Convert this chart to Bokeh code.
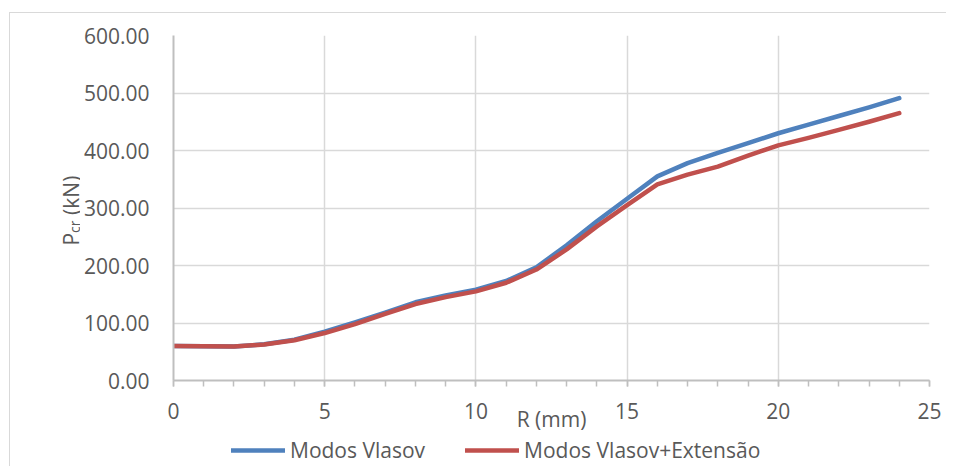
import math
from bokeh.plotting import figure
from bokeh.layouts import row, column
from bokeh.models import (Range1d, SingleIntervalTicker, NumeralTickFormatter,
                          Legend, LegendItem, Label)
from bokeh.embed import file_html
from bokeh.resources import INLINE

# ---- data ----
r_mm = [0, 1, 2, 3, 4, 5, 6, 7, 8, 9, 10, 11, 12, 13, 14, 15, 16, 17, 18, 19, 20, 21, 22, 23, 24]
modos_vlasov = [60, 59.5, 59, 63, 71, 85, 101, 118, 136, 148, 158, 173, 197, 235, 277, 316,
                355, 378, 396, 413, 430, 445, 460, 475, 491]
modos_vlasov_ext = [60, 59.5, 59, 62.5, 70, 82.5, 98, 116, 133, 145, 155, 170, 193, 228, 268, 305,
                    341, 358, 372, 391, 409, 422, 436, 450, 465]
series_names = ["Modos Vlasov", "Modos Vlasov+Extensão"]
series_colors = ["#4f81bd", "#c0504d"]
x_title = "R (mm)"
y_title_main = "P"
y_title_sub = "cr"
y_title_rest = "(kN)"

FONT = "Open Sans"
TXT = "#595959"
MAIN_W = 866

# ---------------- main chart ----------------
p = figure(width=MAIN_W, height=425, output_backend="svg", toolbar_location=None,
           x_range=Range1d(0, 25), y_range=Range1d(0, 600),
           min_border_left=93, min_border_right=17, min_border_top=22, min_border_bottom=58)
p.outline_line_color = None
p.background_fill_color = "white"
p.border_fill_color = "white"

xa = p.xaxis[0]
xa.ticker = SingleIntervalTicker(interval=5, num_minor_ticks=5)
xa.axis_line_color = "#bfbfbf"
xa.axis_line_width = 2
xa.major_tick_line_color = "#bfbfbf"
xa.minor_tick_line_color = "#bfbfbf"
xa.major_tick_line_width = 1.5
xa.minor_tick_line_width = 1.5
xa.major_tick_in = 0
xa.major_tick_out = 6
xa.minor_tick_in = 0
xa.minor_tick_out = 6
xa.major_label_standoff = 16
xa.major_label_text_font = FONT
xa.major_label_text_font_size = "21px"
xa.major_label_text_color = TXT
xa.axis_label = x_title
xa.axis_label_standoff = -17
xa.axis_label_text_font = FONT
xa.axis_label_text_font_size = "21px"
xa.axis_label_text_font_style = "normal"
xa.axis_label_text_color = TXT

ya = p.yaxis[0]
ya.ticker = SingleIntervalTicker(interval=100, num_minor_ticks=0)
ya.formatter = NumeralTickFormatter(format="0.00")
ya.axis_line_color = "#bfbfbf"
ya.axis_line_width = 2
ya.major_tick_in = 0
ya.major_tick_out = 0
ya.minor_tick_line_color = None
ya.major_label_standoff = 24
ya.major_label_text_font = FONT
ya.major_label_text_font_size = "21px"
ya.major_label_text_color = TXT

p.xgrid.grid_line_color = "#d9d9d9"
p.ygrid.grid_line_color = "#d9d9d9"
p.xgrid.grid_line_width = 1.5
p.ygrid.grid_line_width = 1.5

p.line(r_mm, modos_vlasov, line_color=series_colors[0], line_width=4.5,
       line_cap="round", line_join="round")
p.line(r_mm, modos_vlasov_ext, line_color=series_colors[1], line_width=4.5,
       line_cap="round", line_join="round")

# ---------------- legend strip (frame aligned with the main frame) ----------------
lg = figure(width=MAIN_W, height=28, output_backend="svg", toolbar_location=None,
            x_range=Range1d(0, 1), y_range=Range1d(0, 1),
            min_border=0, x_axis_location=None, y_axis_location=None)
lg.outline_line_color = None
lg.grid.visible = False
lg.border_fill_color = "white"
# same series, drawn out of this strip's view; only their legend glyphs show
l1 = lg.line(r_mm, modos_vlasov, line_color=series_colors[0], line_width=4.5, line_cap="round")
l2 = lg.line(r_mm, modos_vlasov_ext, line_color=series_colors[1], line_width=4.5, line_cap="round")
legend = Legend(items=[LegendItem(label=series_names[0], renderers=[l1]),
                       LegendItem(label=series_names[1], renderers=[l2])],
                orientation="horizontal", location=(58, 2),
                glyph_width=54, glyph_height=20, label_standoff=5, spacing=40,
                padding=0, margin=0, border_line_color=None, background_fill_alpha=0,
                label_text_font=FONT, label_text_font_size="21px", label_text_color=TXT)
lg.add_layout(legend)

# ---------------- y-axis title strip ----------------
yt = figure(width=70, height=453, output_backend="svg", toolbar_location=None,
            x_range=Range1d(0, 70), y_range=Range1d(453, 0),
            min_border=0, x_axis_location=None, y_axis_location=None)
yt.outline_line_color = None
yt.grid.visible = False
yt.border_fill_color = "white"
ang = math.pi / 2
yt.add_layout(Label(x=60, y=232, text=y_title_main, angle=ang, text_align="left",
                    text_baseline="alphabetic", text_font=FONT, text_font_size="21px",
                    text_color=TXT))
yt.add_layout(Label(x=64, y=219.4, text=y_title_sub, angle=ang, text_align="left",
                    text_baseline="alphabetic", text_font=FONT, text_font_size="14px",
                    text_color=TXT))
yt.add_layout(Label(x=60, y=201.4, text=y_title_rest, angle=ang, text_align="left",
                    text_baseline="alphabetic", text_font=FONT, text_font_size="21px",
                    text_color=TXT))

layout = row(yt, column(p, lg))
layout.styles = {"border-left": "1px solid #d9d9d9", "border-top": "1px solid #d9d9d9",
                 "margin-left": "9px", "margin-top": "12px"}

open("out.html", "w").write(file_html(layout, INLINE))
